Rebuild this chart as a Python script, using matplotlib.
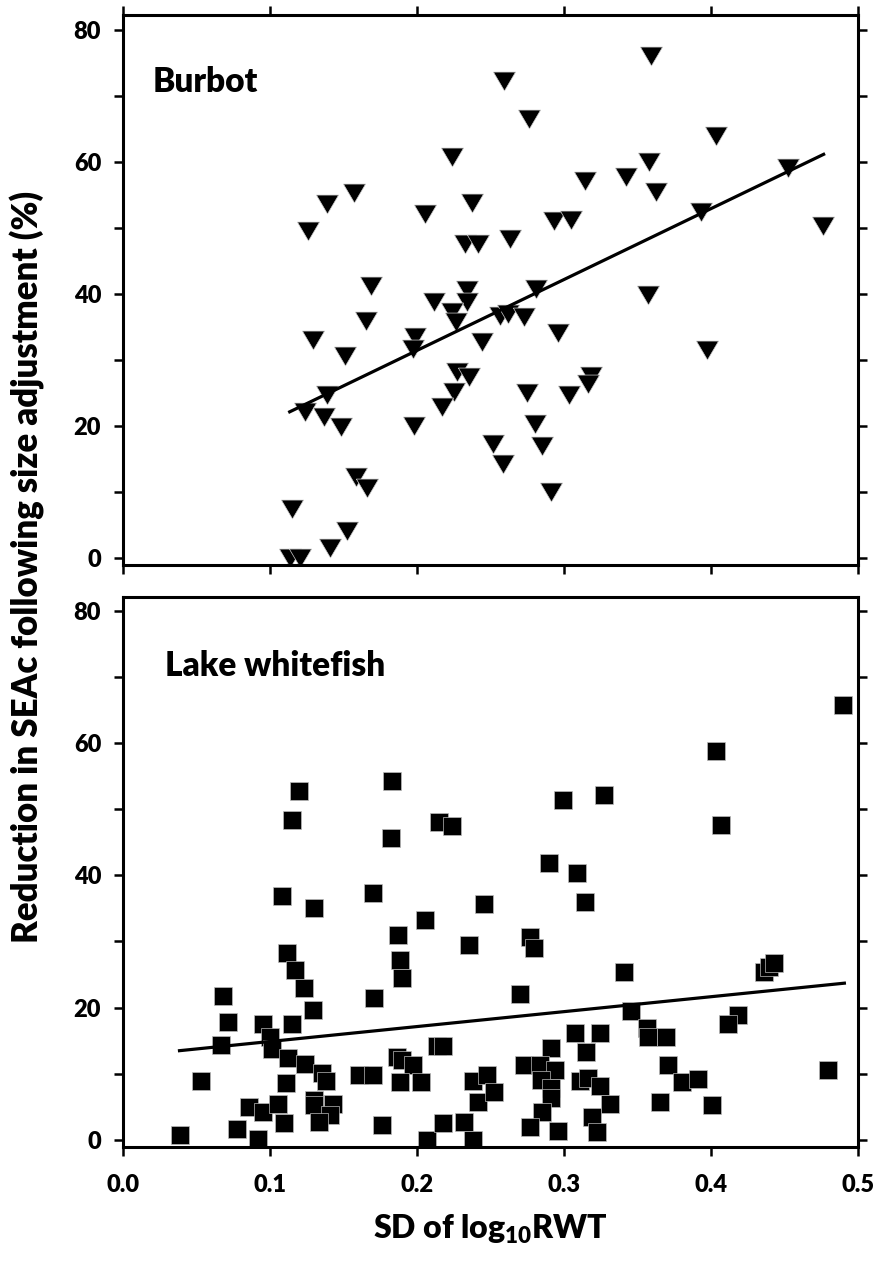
import numpy as np
import matplotlib
matplotlib.use('Agg')
import matplotlib.pyplot as plt
from matplotlib.ticker import MultipleLocator

plt.rcParams['font.family'] = ['Lato', 'DejaVu Sans']
plt.rcParams['font.weight'] = 'heavy'
plt.rcParams['mathtext.fontset'] = 'custom'
plt.rcParams['mathtext.rm'] = 'Lato:heavy'
plt.rcParams['mathtext.bf'] = 'Lato:heavy'

###DATA###
burbot_x = [0.1262, 0.139, 0.157, 0.2241, 0.2057, 0.2373, 0.2328, 0.2414, 0.1687,
            0.3588, 0.2593, 0.2761, 0.4033, 0.3574, 0.4521, 0.3140, 0.3422, 0.3626,
            0.2929, 0.3045, 0.2629, 0.3933, 0.4759, 0.2807,
            0.2116, 0.2343, 0.2343, 0.2237, 0.2264, 0.1655, 0.1294, 0.1512, 0.1989,
            0.1975, 0.2443, 0.2275, 0.2355, 0.2253, 0.2173, 0.139, 0.124, 0.1369,
            0.1483, 0.1978, 0.1583, 0.1662, 0.1153, 0.1526, 0.1408, 0.114, 0.1206,
            0.3567, 0.2566, 0.2616, 0.273, 0.2959, 0.3974, 0.3186, 0.3163, 0.275,
            0.3034, 0.2802, 0.2516, 0.2852, 0.2584, 0.2913]
burbot_y = [49.5, 53.6, 55.2, 60.7, 52.0, 53.7, 47.5, 47.5, 41.2,
            76.0, 72.2, 66.5, 63.9, 59.9, 59.1, 57.1, 57.7, 55.4,
            51.0, 51.2, 48.3, 52.3, 50.2, 40.7,
            38.7, 40.5, 38.7, 37.2, 35.7, 35.8, 33.0, 30.5, 33.4,
            31.6, 32.6, 28.1, 27.4, 25.1, 22.9, 24.6, 22.1, 21.3,
            19.8, 19.9, 12.2, 10.5, 7.4, 4.0, 1.4, 0.0, 0.0,
            39.8, 36.6, 36.9, 36.5, 34.0, 31.4, 27.6, 26.3, 25.0,
            24.6, 20.3, 17.3, 16.9, 14.2, 10.0]
burbot_fit_x = [0.1135, 0.4764]
burbot_fit_y = [22.1, 61.1]

whitefish_x = [0.1197, 0.1149, 0.183, 0.1826, 0.2153, 0.2237,
               0.4898, 0.4035, 0.4067, 0.2995, 0.3272, 0.29, 0.3088,
               0.1081, 0.1301, 0.1699, 0.2454, 0.2055, 0.1869, 0.2353, 0.1115, 0.1172,
               0.1887, 0.1898, 0.1233, 0.0683, 0.1705, 0.1292, 0.0717, 0.0951, 0.1149,
               0.0667, 0.0999, 0.1017, 0.2137, 0.218, 0.1124, 0.1242, 0.1862, 0.19,
               0.1975, 0.1353, 0.1385, 0.1608, 0.1701, 0.0529, 0.111, 0.1882, 0.2028,
               0.238, 0.2477, 0.086, 0.0951, 0.1058, 0.1301, 0.1301, 0.1428, 0.141,
               0.1097, 0.1337, 0.0774, 0.0388, 0.0922, 0.1762, 0.2069, 0.2178, 0.2318,
               0.2382, 0.2416,
               0.3145, 0.2768, 0.2795, 0.3408, 0.2698, 0.4362, 0.4396, 0.4425, 0.4185,
               0.4112, 0.3454, 0.3565, 0.3568, 0.3692, 0.3074, 0.3245, 0.3147, 0.2909,
               0.2727, 0.2836, 0.2941, 0.284, 0.2909, 0.2909, 0.3108, 0.3161, 0.3245,
               0.3313, 0.3703, 0.3799, 0.3912, 0.3653, 0.4005, 0.4796, 0.2847, 0.2768,
               0.2961, 0.3193, 0.3227, 0.2527]
whitefish_y = [52.7, 48.4, 54.2, 45.6, 48.1, 47.5,
               65.8, 58.8, 47.6, 51.4, 52.2, 41.8, 40.4,
               36.8, 35.1, 37.3, 35.7, 33.2, 31.0, 29.4, 28.2, 25.7,
               27.2, 24.5, 23.0, 21.8, 21.5, 19.7, 17.9, 17.6, 17.5,
               14.4, 15.6, 13.8, 14.2, 14.2, 12.4, 11.5, 12.6, 12.1,
               11.4, 10.2, 8.9, 9.9, 9.9, 8.9, 8.6, 8.8, 8.8,
               8.9, 9.8, 5.0, 4.2, 5.4, 6.1, 5.3, 5.4, 3.8,
               2.6, 2.8, 1.7, 0.8, 0.2, 2.2, 0.0, 2.5, 2.8,
               0.0, 5.8,
               36.0, 30.7, 29.0, 25.4, 22.0, 25.4, 26.2, 26.8, 18.9,
               17.6, 19.5, 17.0, 15.5, 15.5, 16.1, 16.1, 13.3, 13.9,
               11.3, 11.3, 10.6, 9.1, 7.8, 6.4, 8.9, 9.3, 8.2,
               5.5, 11.3, 8.8, 9.2, 5.7, 5.3, 10.6, 4.2, 1.9,
               1.3, 3.5, 1.2, 7.2]
whitefish_fit_x = [0.0386, 0.4905]
whitefish_fit_y = [13.5, 23.7]

x_ticks = [0.0, 0.1, 0.2, 0.3, 0.4, 0.5]
y_ticks = [0, 20, 40, 60, 80]

###PLOT###
fig = plt.figure(figsize=(8.79, 12.62), dpi=100)
ax1 = fig.add_axes([0.1396, 0.5523, 0.8369, 0.4358])
ax2 = fig.add_axes([0.1396, 0.0914, 0.8369, 0.4353])

tri = [(-1, 0.85), (1, 0.85), (0, -0.85), (-1, 0.85)]

ax1.plot(burbot_x, burbot_y, linestyle='none', marker=tri, ms=16,
         mfc='black', mec='#cccccc', mew=0.5)
ax1.plot(burbot_fit_x, burbot_fit_y, color='black', lw=2.3)

ax2.plot(whitefish_x, whitefish_y, linestyle='none', marker='s', ms=13,
         mfc='black', mec='#bbbbbb', mew=0.5)
ax2.plot(whitefish_fit_x, whitefish_fit_y, color='black', lw=2.3)

for ax in (ax1, ax2):
    ax.set_xlim(0, 0.5)
    ax.set_ylim(-1.1, 82.2)
    ax.set_xticks(x_ticks)
    ax.set_yticks(y_ticks)
    ax.yaxis.set_minor_locator(MultipleLocator(10))
    for s in ax.spines.values():
        s.set_linewidth(2.2)
    ax.tick_params(which='both', direction='out', length=6.5, width=1.8,
                   right=True, labelsize=17, pad=9)

ax1.tick_params(which='both', top=True, labelbottom=False)
ax2.set_ylim(-1.0, 82.0)
ax2.set_xticklabels(['%.1f' % t for t in x_ticks])
ax2.tick_params(axis='x', pad=13)

ax1.text(0.041, 0.878, 'Burbot', transform=ax1.transAxes, fontsize=24,
         fontweight='heavy', va='center', ha='left')
ax2.text(0.0575, 0.875, 'Lake whitefish', transform=ax2.transAxes, fontsize=24,
         fontweight='heavy', va='center', ha='left')

ax2.set_xlabel('SD of log$_{\\mathbf{10}}$RWT', fontsize=23, fontweight='heavy', labelpad=12)
fig.text(0.031, 0.2528, 'Reduction in SEAc following size adjustment (%)',
         rotation=90, ha='center', va='bottom', fontsize=25, fontweight='heavy')

fig.savefig('out.png', dpi=100)
